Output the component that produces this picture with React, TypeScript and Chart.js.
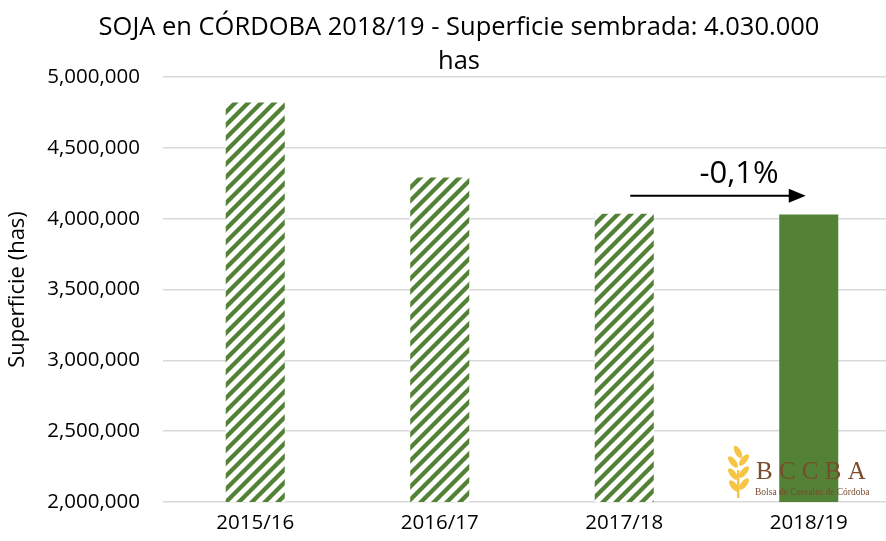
import React, { useEffect, useRef } from "react";
import { Chart, registerables } from "chart.js";

Chart.register(...registerables);

const categories = ["2015/16", "2016/17", "2017/18", "2018/19"];
const superficie = [4820000, 4290000, 4034000, 4030000];
const titleLines = ["SOJA en CÓRDOBA 2018/19 - Superficie sembrada: 4.030.000", "has"];
const yAxisTitle = "Superficie (has)";
const changeLabel = "-0,1%";
const logoTitle = "B C C B A";
const logoSubtitle = "Bolsa de Cereales de Córdoba";

const GREEN = "#538135";
const FONT = "'Open Sans'";

function makeHatch(): CanvasPattern | string {
  const p = 13;
  const c = document.createElement("canvas");
  c.width = p;
  c.height = p;
  const g = c.getContext("2d");
  if (!g) return GREEN;
  g.fillStyle = "#ffffff";
  g.fillRect(0, 0, p, p);
  g.strokeStyle = GREEN;
  g.lineWidth = 4.3;
  g.beginPath();
  g.moveTo(-2, p + 2);
  g.lineTo(p + 2, -2);
  g.moveTo(-2, 2);
  g.lineTo(2, -2);
  g.moveTo(p - 2, p + 2);
  g.lineTo(p + 2, p - 2);
  g.stroke();
  const pat = g.createPattern(c, "repeat");
  return pat || GREEN;
}

const overlayPlugin = {
  id: "overlay",
  afterDraw(chart: any) {
    const ctx = chart.ctx as CanvasRenderingContext2D;
    const x = chart.scales.x;
    const y = chart.scales.y;
    ctx.save();
    // Title
    ctx.fillStyle = "#000000";
    ctx.textAlign = "center";
    ctx.textBaseline = "middle";
    ctx.font = `25.5px ${FONT}`;
    ctx.fillText(titleLines[0], 459, 28);
    ctx.fillText(titleLines[1], 459, 62);

    // Arrow between last two bars
    const x1 = x.getPixelForValue(2) + 6;
    const x2 = x.getPixelForValue(3) - 3;
    const ay = y.getPixelForValue(superficie[2]) - 18;
    ctx.strokeStyle = "#000000";
    ctx.lineWidth = 2;
    ctx.beginPath();
    ctx.moveTo(x1, ay);
    ctx.lineTo(x2 - 14, ay);
    ctx.stroke();
    ctx.fillStyle = "#000000";
    ctx.beginPath();
    ctx.moveTo(x2, ay);
    ctx.lineTo(x2 - 17, ay - 7);
    ctx.lineTo(x2 - 17, ay + 7);
    ctx.closePath();
    ctx.fill();
    ctx.font = `31px ${FONT}`;
    ctx.textAlign = "center";
    ctx.textBaseline = "middle";
    ctx.fillText(changeLabel, 739, ay - 22);

    // Logo
    ctx.fillStyle = "#F6C544";
    const sx = 738;
    const leaves = [
      [sx, 452, -0.5],
      [sx - 5, 462, -0.7],
      [sx + 6, 460, 0.7],
      [sx - 5, 474, -0.7],
      [sx + 6, 472, 0.7],
      [sx - 4, 486, -0.7],
      [sx + 6, 484, 0.7],
    ];
    for (const [lx, ly, r] of leaves) {
      ctx.beginPath();
      ctx.ellipse(lx, ly, 3, 7, r, 0, Math.PI * 2);
      ctx.fill();
    }
    ctx.fillRect(sx - 1, 470, 2.5, 28);
    ctx.fillStyle = "#7A4B2C";
    ctx.textAlign = "left";
    ctx.textBaseline = "alphabetic";
    ctx.font = "25px 'Liberation Serif'";
    ctx.fillText(logoTitle, 756, 479);
    ctx.font = "9.5px 'Liberation Serif'";
    ctx.fillText(logoSubtitle, 755, 495);
    ctx.restore();
  },
};

export default function App() {
  const ref = useRef<HTMLCanvasElement | null>(null);
  useEffect(() => {
    if (!ref.current) return;
    const hatch = makeHatch();
    const colors = categories.map((_, i) => (i < categories.length - 1 ? hatch : GREEN));
    const chart = new Chart(ref.current, {
      type: "bar",
      data: {
        labels: categories,
        datasets: [
          {
            data: superficie,
            backgroundColor: colors as any,
            barPercentage: 0.32,
            categoryPercentage: 1,
          },
        ],
      },
      options: {
        animation: false,
        responsive: false,
        maintainAspectRatio: false,
        layout: { padding: { top: 77, right: 4, left: 0, bottom: 0 } },
        plugins: {
          legend: { display: false },
          tooltip: { enabled: false },
          title: { display: false },
        },
        scales: {
          x: {
            grid: { display: false, drawTicks: false },
            border: { display: false },
            ticks: {
              color: "#000000",
              font: { family: FONT, size: 20.5 },
              padding: 9,
            },
            afterFit: (s: any) => {
              s.height = 39;
            },
          },
          y: {
            min: 2000000,
            max: 5000000,
            grid: { color: "#d9d9d9", lineWidth: 1.5, drawTicks: false },
            border: { display: false },
            ticks: {
              stepSize: 500000,
              color: "#000000",
              font: { family: FONT, size: 20.5 },
              padding: 23,
              callback: (v: any) => Number(v).toLocaleString("en-US"),
            },
            title: {
              display: true,
              text: yAxisTitle,
              color: "#000000",
              font: { family: FONT, size: 22 },
              padding: { top: 5, bottom: 0 },
            },
            afterFit: (s: any) => {
              s.width = 163;
            },
          },
        },
      },
      plugins: [overlayPlugin],
    });
    return () => chart.destroy();
  }, []);
  return (
    <div
      style={{
        position: "absolute",
        left: 0,
        top: 0,
        width: 886,
        height: 541,
        overflow: "hidden",
        background: "#ffffff",
      }}
    >
      <canvas ref={ref} width={905} height={541} style={{ width: 905, height: 541, display: "block" }} />
    </div>
  );
}
